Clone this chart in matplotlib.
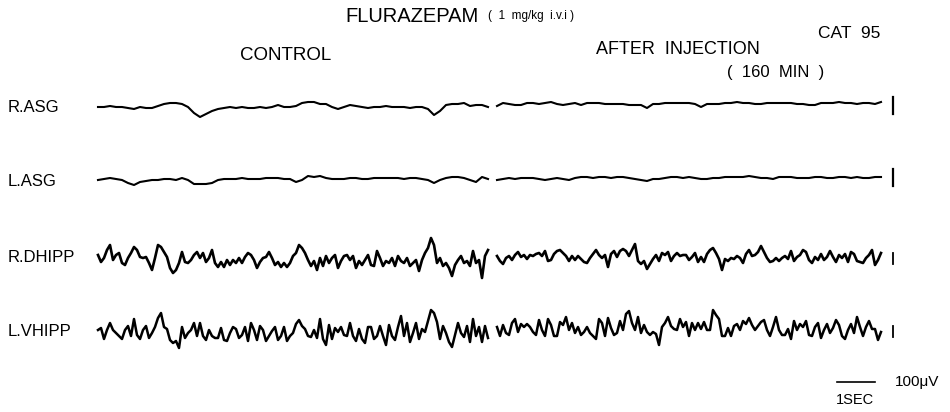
import numpy as np
import matplotlib.pyplot as plt

plt.rcParams['font.family'] = ['Liberation Sans', 'DejaVu Sans']

# ---------------- data (deflections, upward positive; display units) ----------------
channels = ["R.ASG", "L.ASG", "R.DHIPP", "L.VHIPP"]

rasg_control = [0,0,1,0,0,-1,-2,0,-1,-1, 1,3,4,4,3,0,-6,-10,-7,-4, -2,-1,0,-1,0,-1,-1,0,-1,0,
                2,0,0,1,4,5,5,3,3,0, -2,0,2,1,0,-1,0,0,1,0, 0,0,-1,0,0,-2,-8,-4,2,3, 3,4,1,2,2,0]
lasg_control = [-1,0,1,0,-1,-4,-6,-3,-2,-1, -1,0,0,-1,1,-1,-5,-5,-5,-4, -1,0,0,0,1,0,0,0,1,1,
                1,0,0,-3,-1,3,2,3,1,0, 0,0,1,1,0,0,1,1,1,1, 1,0,1,1,0,-1,-4,-1,1,2, 2,1,-1,-3,2,0]
rasg_after = [1,4,3,2,2,4,4,3,4,5, 3,2,3,4,2,4,4,4,3,3, 3,3,2,2,2,-1,3,3,4,4, 4,4,4,3,0,3,3,3,4,4,
              5,4,4,3,3,4,4,4,4,4, 3,3,2,2,4,4,4,5,4,4, 3,4,4,3,5]
lasg_after = [-1,0,1,0,1,1,1,0,-1,0, 1,0,-1,1,2,2,1,2,2,1, 2,2,1,0,-1,-2,0,0,1,2, 2,1,2,1,0,0,1,1,2,2,
              2,2,3,2,1,1,0,2,2,2, 1,1,1,2,2,1,1,2,2,1, 2,1,1,2,2]

rdhipp_control = [5,-2,2,10,15,0,5,7,-3,-5, 2,7,13,10,3,2,3,-3,-10,2, 15,13,8,3,-8,-13,-10,-3,8,-2,
                  -3,0,5,8,2,7,-2,2,10,-3, -7,-2,-7,0,-5,0,-3,2,-3,3, 7,5,0,-8,-2,2,3,8,2,-5,
                  -2,-7,-3,-7,-3,
                  4,7,15,12,7,0,-6,-1,-10,2, -6,4,-3,2,5,-8,-1,4,5,0, 4,-8,-1,-5,0,5,-5,-6,9,2,
                  -6,-1,-3,2,-6,4,-1,-3,2,-6, -3,0,-11,0,7,12,22,15,-3,2, -6,-3,-8,-16,-5,0,4,-3,-1,-6,
                  9,-3,0,-18,4,10]
lvhipp_control = [3,5,-6,3,10,3,0,-3,-6,3, 7,-3,14,-2,-6,3,7,-5,0,6, 15,20,6,4,-7,-10,-8,-15,6,-5,
                  0,3,10,-3,10,-3,-7,3,-3,-5, -5,5,-7,-8,0,6,4,-5,-2,6, -8,10,3,-7,7,3,-8,-3,2,6,
                  -7,-3,6,-8,-3,
                  0,9,13,7,4,-3,-4,3,-5,14, -6,-12,8,-6,5,1,6,-2,-3,10, -3,-8,4,-6,-10,6,6,-6,-3,7,
                  -3,-12,8,-3,-7,6,17,-3,10,-9, 0,10,-6,4,1,12,23,20,11,-6, 7,0,-9,-14,-2,10,0,-4,7,-9,
                  14,-3,6,-9,7,-5]
rdhipp_after = [4,-1,-4,2,4,0,5,8,3,5, 1,5,4,6,7,4,9,-1,0,6, 9,10,7,4,-1,4,0,4,1,-2,
                -3,2,6,10,5,2,5,-7,6,9, 3,9,11,9,4,10,16,-1,-4,-1, -9,-4,1,5,-1,7,5,8,-1,4,
                7,4,5,
                5,0,3,7,-2,3,-2,6,10,12, 7,1,-10,1,-1,2,1,4,2,-3, 6,10,4,5,8,14,8,2,-2,-1,
                2,-1,2,4,1,9,-1,3,5,10, 8,0,-3,3,0,6,0,3,9,3, -2,5,2,6,-2,8,6,-1,-2,-3,
                2,5,10,-5,0,7]
lvhipp_after = [6,-3,8,0,-2,10,14,1,9,6, 9,6,1,-2,13,3,-3,14,8,-3, -3,11,8,16,3,10,0,6,-2,1,
                6,0,-3,-6,14,10,-3,15,5,-2, 0,12,3,19,22,10,3,16,0,8, 1,-2,1,-1,-12,6,10,16,7,4,
                3,14,6,
                11,-3,10,3,10,4,11,3,3,23, 18,14,-3,-3,5,-3,7,9,3,12, 9,15,8,3,7,11,13,3,-3,6,
                16,3,-2,-2,4,-6,12,3,9,6, 12,-2,-3,6,10,-5,3,9,0,5, 13,8,-3,-6,3,9,0,16,6,-3,
                6,12,4,4,-7,1]

cal_heights = [17, 17, 11, 11]          # calibration pulse (100 uV) per channel
scale_sec = 1.0                          # time bar 1 s

# ---------------- layout ----------------
W, H = 950, 412
px_per_s = 38.0
x0_px = 98.0
asg_dt = 6 / px_per_s
hipp_dt = 3 / px_per_s
control_start = 0.0
after_start = 10.5
baselines = [305, 233, 152, 79]          # channel offsets (from bottom)

fig = plt.figure(figsize=(W / 100, H / 100), dpi=100)
ax = fig.add_axes([0, 0, 1, 1])
ax.set_xlim(-x0_px / px_per_s, (W - x0_px) / px_per_s)
ax.set_ylim(0, H)
ax.axis('off')

traces = [
    (rasg_control, rasg_after, asg_dt, 1.5),
    (lasg_control, lasg_after, asg_dt, 1.5),
    (rdhipp_control, rdhipp_after, hipp_dt, 1.9),
    (lvhipp_control, lvhipp_after, hipp_dt, 1.8),
]
for (ctl, aft, dt, lw), base in zip(traces, baselines):
    for vals, start in ((ctl, control_start), (aft, after_start)):
        v = np.asarray(vals, dtype=float)
        t = start + np.arange(len(v)) * dt
        ax.plot(t, base + v, color='black', lw=lw, solid_joinstyle='round')

cal_t = (893 - x0_px) / px_per_s
for base, h, lw in zip(baselines, cal_heights, [1.6, 1.6, 1.3, 1.3]):
    ax.plot([cal_t, cal_t], [base - h / 2 + 1.5, base + h / 2 + 1.5], color='black', lw=lw)

# time / amplitude scale
bar_t0 = (837 - x0_px) / px_per_s
ax.plot([bar_t0, bar_t0 + scale_sec], [30, 30], color='black', lw=1.2)

def ftext(x, y, s, size, **kw):
    fig.text(x / W, 1 - y / H, s, fontsize=size, va='center', **kw)

ftext(345, 17, "FLURAZEPAM", 14.5)
ftext(488, 16, "(  1  mg/kg  i.v.i )", 8.5)
ftext(818, 34, "CAT  95", 12.5)
ftext(240, 55, "CONTROL", 13.5)
ftext(596, 49, "AFTER  INJECTION", 13)
ftext(727, 72, "(  160  MIN  )", 12)
for lab, y in zip(channels, [107, 182, 257, 331]):
    ftext(8, y, lab, 12)
ftext(895, 382, "100\u03bcV", 11)
ftext(836, 400, "1SEC", 10.5)

fig.savefig("out.png", dpi=100, facecolor='white')
